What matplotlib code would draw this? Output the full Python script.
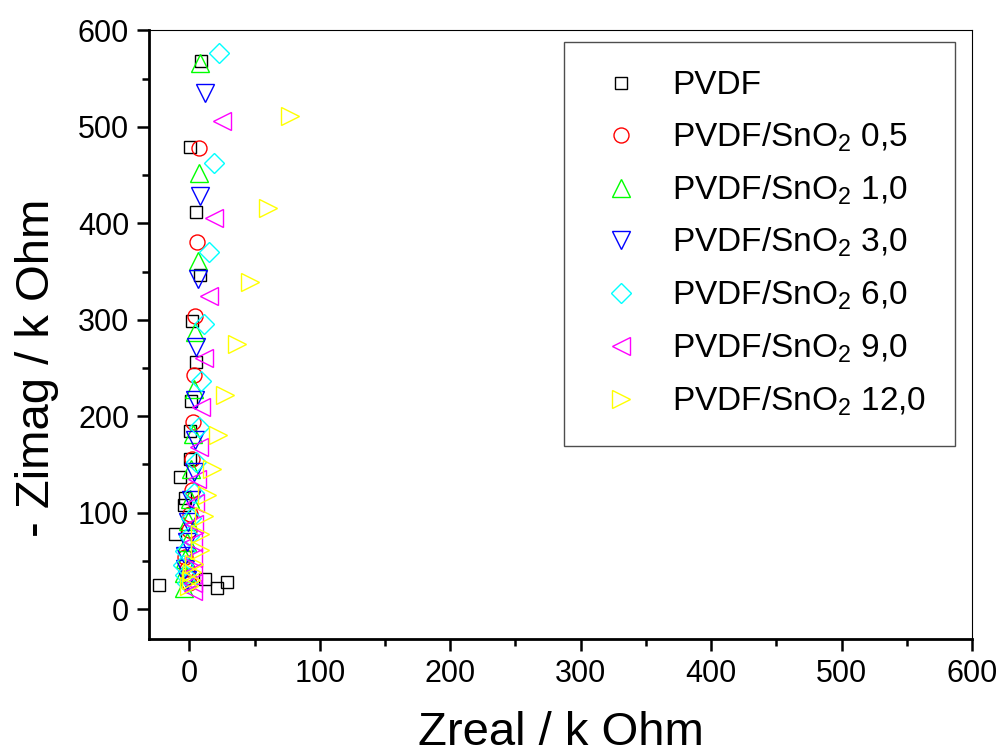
import matplotlib
matplotlib.use("Agg")
import matplotlib.pyplot as plt
from matplotlib.ticker import MultipleLocator

plt.rcParams['font.family'] = ['Liberation Sans', 'DejaVu Sans']
plt.rcParams['mathtext.fontset'] = 'custom'
plt.rcParams['mathtext.rm'] = 'Liberation Sans'
plt.rcParams['mathtext.it'] = 'Liberation Sans:italic'

# Zreal / Zimag in k Ohm
pvdf_x = [9.2, 0.8, 4.8, 7.9, 2.0, 5.1, 1.3, 0.2, 0.8, -6.9, -3.0, -4.4, -11.0, -23.0, 12.3, 28.7, 21.5]
pvdf_y = [568, 479, 412, 346, 299, 256, 216, 185, 156, 137, 115, 108, 78, 25, 31, 27.6, 21.8]

s05_x = [7.4, 5.9, 4.0, 3.3, 2.8, 2.0, 2.0, 0.8, -0.5, -3.0, -2.0, -1.0, 0.0]
s05_y = [478, 381, 304, 243, 194, 156, 123, 99, 82, 54, 42, 33, 27]

s10_x = [8.4, 7.6, 6.4, 4.6, 3.8, 2.5, 1.5, 0.5, -1.0, -2.0, -3.0, -4.0, -4.4]
s10_y = [566, 452, 361, 287, 228, 182, 145, 114, 91, 70, 52, 37, 22]

s30_x = [11.7, 8.4, 6.9, 5.3, 4.0, 4.0, 3.3, 1.0, -1.0, -2.0, -3.0, -3.0, -2.0]
s30_y = [535, 428, 342, 272, 217, 175, 142, 113, 90, 70, 55, 42, 30]

s60_x = [23.0, 18.6, 14.7, 11.5, 9.2, 7.6, 5.3, 3.3, 1.5, -0.5, -3.0, -4.8, -3.0, -2.0]
s60_y = [577, 462, 370, 296, 236, 189, 152, 120, 94, 76, 60, 46, 35, 27]

s90_x = [25.0, 19.0, 14.7, 11.5, 9.2, 7.1, 5.9, 4.5, 3.5, 3.0, 3.0, 3.0, 3.0, 3.0]
s90_y = [506, 405, 325, 260, 209, 168, 135, 110, 88, 70, 53, 38, 27, 19]

s120_x = [77.0, 60.6, 46.6, 36.4, 27.5, 22.0, 17.3, 13.5, 11.0, 8.4, 7.9, 3.3, 2.0, 1.0, 0.0]
s120_y = [511, 416, 339, 275, 222, 180, 145, 118, 96, 78, 61, 47, 38, 30, 24]

labels = ['PVDF', 'PVDF/SnO$_2$ 0,5', 'PVDF/SnO$_2$ 1,0', 'PVDF/SnO$_2$ 3,0',
          'PVDF/SnO$_2$ 6,0', 'PVDF/SnO$_2$ 9,0', 'PVDF/SnO$_2$ 12,0']
series = [(pvdf_x, pvdf_y), (s05_x, s05_y), (s10_x, s10_y), (s30_x, s30_y),
          (s60_x, s60_y), (s90_x, s90_y), (s120_x, s120_y)]
colors = ['black', '#FF0000', '#00FF00', '#0000FF', '#00FFFF', '#FF00FF', '#FFFF00']
markers = ['s', 'o', '^', 'v', 'D', '<', '>']
sizes = [9.1, 10.8, 12.5, 12.5, 9.7, 12.5, 12.5]

fig = plt.figure(figsize=(10.01, 7.56), dpi=100)
ax = fig.add_axes([0.1492, 0.1548, 0.8218, 0.805])

for (x, y), lab, c, m, ms in zip(series, labels, colors, markers, sizes):
    ax.plot(x, y, linestyle='none', marker=m, ms=ms, mfc='none', mec=c, mew=1.0, label=lab)

ax.set_xlim(-30.7, 600)
ax.set_ylim(-31, 600)
ax.xaxis.set_major_locator(MultipleLocator(100))
ax.xaxis.set_minor_locator(MultipleLocator(50))
ax.yaxis.set_major_locator(MultipleLocator(100))
ax.yaxis.set_minor_locator(MultipleLocator(50))

ax.spines['left'].set_linewidth(2.0)
ax.spines['bottom'].set_linewidth(2.0)
ax.spines['top'].set_linewidth(0.8)
ax.spines['right'].set_linewidth(0.8)
ax.tick_params(which='both', direction='out', top=False, right=False, width=1.8)
ax.tick_params(which='major', length=8.5, labelsize=22, pad=6)
ax.tick_params(which='minor', length=5)

ax.set_xlabel('Zreal / k Ohm', fontsize=34, labelpad=16)
ax.set_ylabel('- Zimag / k Ohm', fontsize=34)
ax.yaxis.set_label_coords(-0.11, 0.445)

leg = ax.legend(loc='upper right', bbox_to_anchor=(0.979, 0.981), borderaxespad=0,
                fontsize=24, frameon=True, fancybox=False, borderpad=0.85,
                handlelength=1.72, handletextpad=0.67, labelspacing=0.58)
leg.get_frame().set_edgecolor('#222222')
leg.get_frame().set_linewidth(1.0)

fig.savefig('out.png', dpi=100)
